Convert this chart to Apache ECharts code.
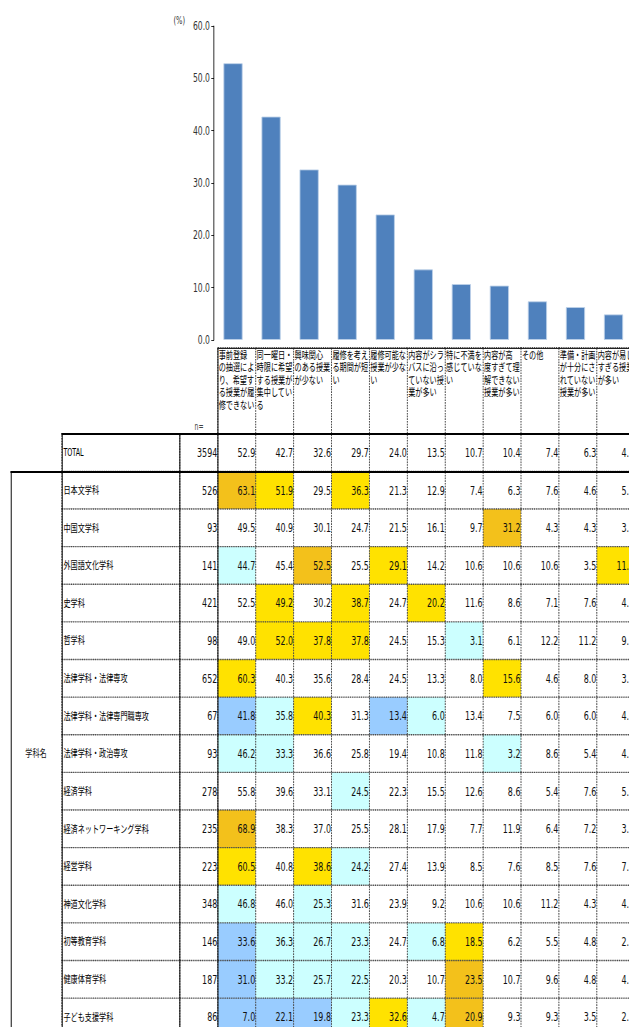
<!DOCTYPE html>
<html><head><meta charset="utf-8">
<script src="https://cdn.jsdelivr.net/npm/echarts@6/dist/echarts.min.js"></script>
<style>
html,body{margin:0;padding:0;overflow:hidden;background:#fff;width:629px;height:1027px}
#c{width:1000px;height:1045px;transform:scaleX(0.68);transform-origin:0 0}
</style>
</head><body><div id="c"></div>
<script>
// ---------- data ----------
const categories = [
  '事前登録\nの抽選によ\nり、希望す\nる授業が履\n修できない',
  '同一曜日・\n時限に希望\nする授業が\n集中してい\nる',
  '興味関心\nのある授業\nが少ない',
  '履修を考え\nる期間が短\nい',
  '履修可能な\n授業が少な\nい',
  '内容がシラ\nバスに沿っ\nていない授\n業が多い',
  '特に不満を\n感じていな\nい',
  '内容が高\n度すぎて理\n解できない\n授業が多い',
  'その他',
  '準備・計画\nが十分にさ\nれていない\n授業が多い',
  '内容が易し\nすぎる授業\nが多い'
];
const rowNames = ['TOTAL','日本文学科','中国文学科','外国語文化学科','史学科','哲学科',
  '法律学科・法律専攻','法律学科・法律専門職専攻','法律学科・政治専攻','経済学科',
  '経済ネットワーキング学科','経営学科','神道文化学科','初等教育学科','健康体育学科','子ども支援学科'];
const nValues = [3594,526,93,141,421,98,652,67,93,278,235,223,348,146,187,86];

const rowTotal      = [52.9,42.7,32.6,29.7,24.0,13.5,10.7,10.4,7.4,6.3,4.9];
const rowNihonbun   = [63.1,51.9,29.5,36.3,21.3,12.9,7.4,6.3,7.6,4.6,5.2];
const rowChugokubun = [49.5,40.9,30.1,24.7,21.5,16.1,9.7,31.2,4.3,4.3,3.2];
const rowGaikokugo  = [44.7,45.4,52.5,25.5,29.1,14.2,10.6,10.6,10.6,3.5,11.3];
const rowShigaku    = [52.5,49.2,30.2,38.7,24.7,20.2,11.6,8.6,7.1,7.6,4.0];
const rowTetsugaku  = [49.0,52.0,37.8,37.8,24.5,15.3,3.1,6.1,12.2,11.2,9.2];
const rowHoritsu    = [60.3,40.3,35.6,28.4,24.5,13.3,8.0,15.6,4.6,8.0,3.8];
const rowHoSenmon   = [41.8,35.8,40.3,31.3,13.4,6.0,13.4,7.5,6.0,6.0,4.5];
const rowSeiji      = [46.2,33.3,36.6,25.8,19.4,10.8,11.8,3.2,8.6,5.4,4.3];
const rowKeizai     = [55.8,39.6,33.1,24.5,22.3,15.5,12.6,8.6,5.4,7.6,5.4];
const rowKeizaiNet  = [68.9,38.3,37.0,25.5,28.1,17.9,7.7,11.9,6.4,7.2,3.8];
const rowKeiei      = [60.5,40.8,38.6,24.2,27.4,13.9,8.5,7.6,8.5,7.6,7.6];
const rowShinto     = [46.8,46.0,25.3,31.6,23.9,9.2,10.6,10.6,11.2,4.3,4.3];
const rowShoto      = [33.6,36.3,26.7,23.3,24.7,6.8,18.5,6.2,5.5,4.8,2.7];
const rowKenko      = [31.0,33.2,25.7,22.5,20.3,10.7,23.5,10.7,9.6,4.8,4.3];
const rowKodomo     = [7.0,22.1,19.8,23.3,32.6,4.7,20.9,9.3,9.3,3.5,2.3];
const rowValues = [rowTotal,rowNihonbun,rowChugokubun,rowGaikokugo,rowShigaku,rowTetsugaku,
  rowHoritsu,rowHoSenmon,rowSeiji,rowKeizai,rowKeizaiNet,rowKeiei,rowShinto,rowShoto,rowKenko,rowKodomo];

const yMin = 0, yMax = 60, yInterval = 10;
const unitLabel = '(%)';
const sectionLabel = '学科名';
const nLabel = 'n=';

// ---------- layout / style ----------
const K = 0.68;                 // horizontal squeeze applied by CSS
const X = v => v / K;
const FONT = "'Liberation Sans Narrow','Arial Narrow','DejaVu Sans Condensed','Noto Sans CJK JP',sans-serif";
const COLW = X(37.9);
const DATA_LEFT = X(218);
const TOP = 434, ROWH = 37.625;
const nRows = rowNames.length, nCols = categories.length;
const ORANGE = '#F3C11B', YELLOW = '#FFE200', CYAN = '#CCFFFF', BLUE = '#99CCFF';
function cellColor(v, t) {
  const d = Math.round((v - t) * 10) / 10;
  if (d >= 10) return ORANGE;
  if (d > 5) return YELLOW;
  if (d <= -10) return BLUE;
  if (d < -5) return CYAN;
  return '#ffffff';
}
const cellBorder = {borderColor: '#4a4a4a', borderWidth: 1.4, borderType: [1.6, 1.1]};
const blackLine = w => ({show: true, lineStyle: {color: '#000', width: w}});
const off = {show: false};

const grid = [
  {left: X(214), top: 26, width: X(38.05 * 11), height: 314},
  {left: DATA_LEFT, top: 348, width: COLW * nCols, height: TOP - 348},
  {left: X(62), top: TOP, width: X(118), height: ROWH * nRows},
  {left: X(180), top: TOP, width: X(38), height: ROWH * nRows},
  {left: DATA_LEFT, top: TOP, width: COLW * nCols, height: ROWH * nRows},
  {left: X(11), top: TOP + ROWH, width: DATA_LEFT + COLW * nCols - X(11), height: ROWH * (nRows - 1)}
].map(g => Object.assign(g, {outerBoundsMode: 'none', containLabel: false}));

const xAxis = [
  {gridIndex: 0, type: 'category', data: categories, show: false},
  {gridIndex: 1, type: 'category', data: categories, position: 'top', axisLine: {show: true, lineStyle: {color: '#222', width: 1.2}}, axisTick: off, axisLabel: off, z: 10},
  {gridIndex: 2, type: 'category', data: [''], position: 'top', axisLine: blackLine(2), axisTick: off, axisLabel: off, z: 10},
  {gridIndex: 3, type: 'category', data: [nLabel], position: 'top', axisLine: blackLine(2), axisTick: off,
    axisLabel: {show: true, margin: 3, fontSize: 10, color: '#444', fontFamily: FONT}, z: 10},
  {gridIndex: 4, type: 'category', data: categories, position: 'top', axisLine: blackLine(2), axisTick: off, axisLabel: off, z: 10},
  {gridIndex: 5, type: 'category', data: [''], position: 'top', axisLine: blackLine(2), axisTick: off, axisLabel: off, z: 10}
];
const rowAxis = gi => ({gridIndex: gi, type: 'category', data: rowNames, inverse: true,
  axisLine: blackLine(1.4), axisTick: off, axisLabel: off, splitLine: off, z: 10});
const yAxis = [
  {gridIndex: 0, type: 'value', min: yMin, max: yMax, interval: yInterval,
    name: unitLabel, nameLocation: 'end', nameGap: 6,
    nameTextStyle: {align: 'right', verticalAlign: 'middle', padding: [0, X(29), 0, 0], fontSize: 11, color: '#333', fontFamily: FONT},
    axisLine: {show: true, lineStyle: {color: '#000', width: 1.2}},
    axisTick: {show: true, length: 4, lineStyle: {color: '#000'}},
    axisLabel: {formatter: v => v.toFixed(1), fontSize: 12.5, color: '#333', margin: 6, fontFamily: FONT},
    splitLine: off},
  {gridIndex: 1, type: 'category', data: [''], axisLine: blackLine(1.4), axisTick: off, axisLabel: off, z: 10},
  rowAxis(2), rowAxis(3), rowAxis(4),
  {gridIndex: 5, type: 'category', data: [''], axisLine: blackLine(1.4), axisTick: off, axisLabel: off, z: 10,
    name: sectionLabel, nameLocation: 'middle', nameRotate: 0, nameGap: -(X(36) - X(11)),
    nameTextStyle: {align: 'center', verticalAlign: 'middle', fontSize: 10.5, color: '#111', fontFamily: FONT}}
];

const headerData = categories.map((c, i) => [i, 0, 0]);
const labelData = rowNames.map((r, i) => [0, i, 0]);
const nData = nValues.map((n, i) => [0, i, n]);
const cellData = [];
rowValues.forEach((row, r) => row.forEach((v, c) => {
  cellData.push({value: [c, r, v], itemStyle: {color: r === 0 ? '#ffffff' : cellColor(v, rowTotal[c])}});
}));

const series = [
  {type: 'bar', xAxisIndex: 0, yAxisIndex: 0, data: rowTotal, barWidth: '50%',
    itemStyle: {color: '#4F81BD', borderColor: '#BCD0E8', borderWidth: 1}, emphasis: {disabled: true}},
  {type: 'heatmap', xAxisIndex: 1, yAxisIndex: 1, data: headerData,
    itemStyle: Object.assign({color: '#ffffff'}, cellBorder), emphasis: {disabled: true},
    label: {show: true, position: 'insideTopLeft', distance: 2, formatter: p => categories[p.value[0]],
      fontSize: 10.5, lineHeight: 12.5, color: '#000', fontFamily: FONT}},
  {type: 'heatmap', xAxisIndex: 2, yAxisIndex: 2, data: labelData,
    itemStyle: Object.assign({color: '#ffffff'}, cellBorder), emphasis: {disabled: true},
    label: {show: true, position: 'insideLeft', distance: 3, formatter: p => rowNames[p.value[1]],
      fontSize: 10.5, color: '#000', fontFamily: FONT}},
  {type: 'heatmap', xAxisIndex: 3, yAxisIndex: 3, data: nData,
    itemStyle: Object.assign({color: '#ffffff'}, cellBorder), emphasis: {disabled: true},
    label: {show: true, position: 'insideRight', distance: 2, formatter: p => String(p.value[2]),
      fontSize: 13, color: '#111', fontFamily: FONT}},
  {type: 'heatmap', xAxisIndex: 4, yAxisIndex: 4, data: cellData,
    itemStyle: cellBorder, emphasis: {disabled: true},
    label: {show: true, position: 'insideRight', distance: 2, formatter: p => p.value[2].toFixed(1),
      fontSize: 13, color: '#111', fontFamily: FONT}}
];

const chart = echarts.init(document.getElementById('c'), null, {renderer: 'svg'});
chart.setOption({animation: false, backgroundColor: '#ffffff', grid, xAxis, yAxis, series,
  textStyle: {fontFamily: FONT}});
</script>
</body></html>
